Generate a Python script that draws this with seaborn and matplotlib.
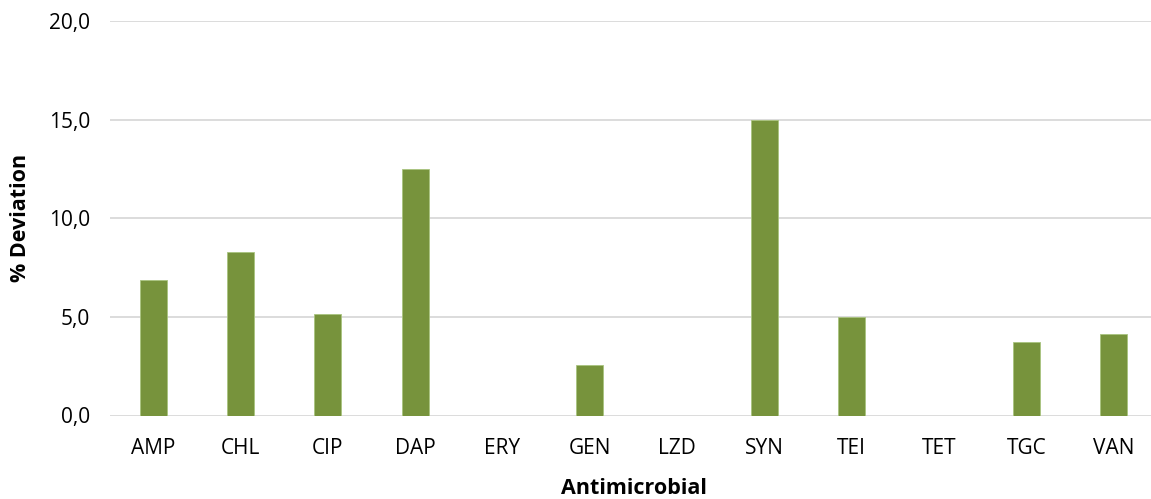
import matplotlib
matplotlib.use("Agg")
import matplotlib.pyplot as plt
import seaborn as sns
import pandas as pd
from matplotlib.ticker import FuncFormatter, MultipleLocator

categories = ["AMP", "CHL", "CIP", "DAP", "ERY", "GEN", "LZD", "SYN", "TEI", "TET", "TGC", "VAN"]
values = [6.88, 8.31, 5.15, 12.5, 0.0, 2.56, 0.0, 15.0, 4.98, 0.0, 3.73, 4.14]

sns.set_theme(style="white")
plt.rcParams['font.family'] = ['Open Sans', 'DejaVu Sans']

df = pd.DataFrame({"Antimicrobial": categories, "Deviation": values})

fig = plt.figure(figsize=(11.51, 4.99), dpi=100)
ax = fig.add_axes([109.5/1151, 1 - 415.5/499, 1048/1151, (415.5-21)/499])

sns.barplot(data=df, x="Antimicrobial", y="Deviation", color="#77933C", width=0.31,
            saturation=1, ax=ax, zorder=3, edgecolor="#A9C47F", linewidth=0.6)

ax.set_ylim(0, 20)
ax.set_xlim(-0.5, 11.5)
ax.yaxis.set_major_locator(MultipleLocator(5))
ax.yaxis.set_major_formatter(FuncFormatter(lambda v, p: f"{v:.1f}".replace(".", ",")))
ax.grid(axis="y", color="#D9D9D9", linewidth=1.3, zorder=0)
ax.set_axisbelow(True)
for s in ax.spines.values():
    s.set_visible(False)
ax.tick_params(axis="both", length=0, labelsize=15, colors="#000000")
ax.tick_params(axis="x", pad=16)
ax.tick_params(axis="y", pad=14)
ax.set_xlabel("Antimicrobial", fontsize=15.5, fontweight="bold", labelpad=14, color="#000000")
ax.set_ylabel("% Deviation", fontsize=15.5, fontweight="bold", color="#000000")
ax.yaxis.set_label_coords(-0.085, 0.5)
ax.yaxis.label.set_verticalalignment("center")

fig.savefig("out.png", dpi=100)
